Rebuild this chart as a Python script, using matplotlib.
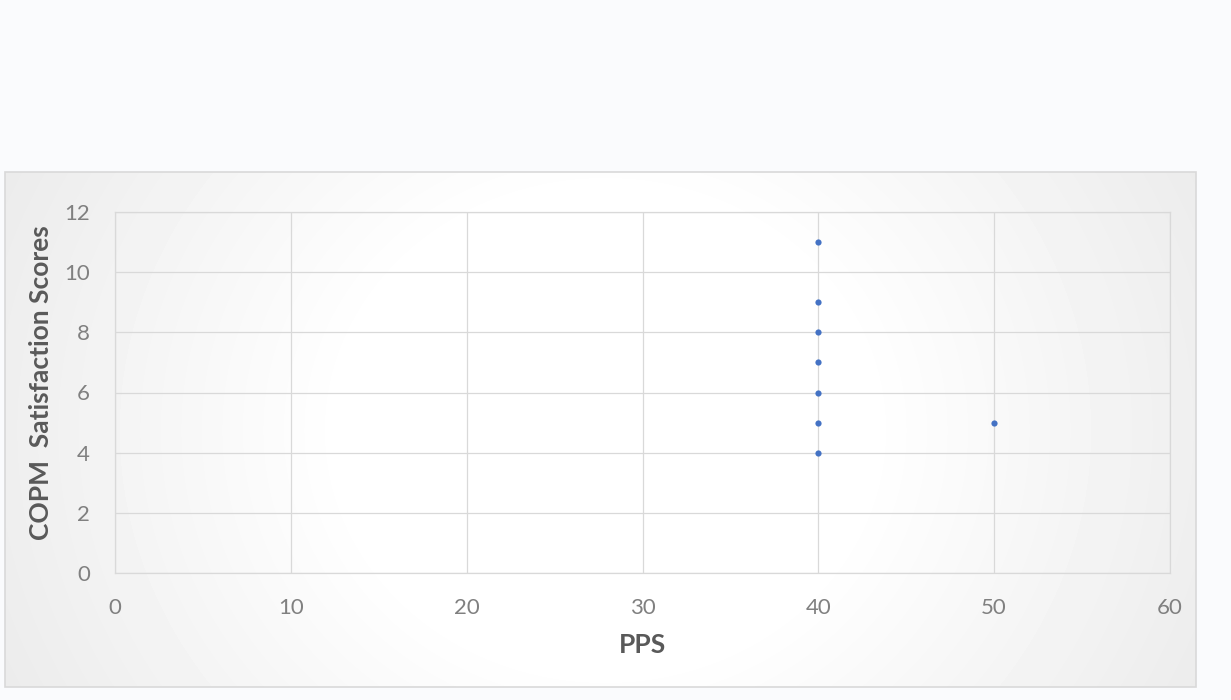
import matplotlib.pyplot as plt
import matplotlib.patches as patches
import numpy as np

# PPS vs COPM satisfaction
pps = [40, 40, 40, 40, 40, 40, 40, 50]
copm_satisfaction = [11, 9, 8, 7, 6, 5, 4, 5]

x_ticks = [0, 10, 20, 30, 40, 50, 60]
y_ticks = [0, 2, 4, 6, 8, 10, 12]

W, H = 1231, 700
fig = plt.figure(figsize=(W / 100, H / 100), dpi=100)
fig.patch.set_facecolor("#fafbfd")

# chart box with a soft radial shading
box_l, box_t, box_r, box_b = 5, 172, 1196, 687
bg = fig.add_axes([0, 0, 1, 1], zorder=0)
bg.set_xlim(0, W)
bg.set_ylim(H, 0)
bg.axis("off")
xx, yy = np.meshgrid(np.arange(box_l, box_r), np.arange(box_t, box_b))
r = np.hypot((xx - 605) / 1.0, (yy - 430) / 0.9)
t = np.clip((r - 260) / 420, 0, 1)
shade = 1 - 0.08 * t
bg.imshow(shade, cmap="gray", vmin=0, vmax=1,
          extent=(box_l, box_r, box_b, box_t), interpolation="bilinear")
bg.add_patch(patches.Rectangle((box_l, box_t), box_r - box_l, box_b - box_t,
                               fill=False, ec="#d9d9d9", lw=1.2))

ax = fig.add_axes([115 / W, 1 - 573 / H, (1170 - 115) / W, (573 - 212) / H], zorder=1)
ax.patch.set_alpha(0)
ax.scatter(pps, copm_satisfaction, s=20, color="#4472c4", zorder=3, lw=0)

ax.set_xlim(0, 60)
ax.set_ylim(0, 12)
ax.set_xticks(x_ticks)
ax.set_yticks(y_ticks)
ax.grid(True, color="#d9d9d9", lw=0.9)
ax.set_axisbelow(True)
for s in ax.spines.values():
    s.set_color("#d9d9d9")
    s.set_linewidth(0.9)
ax.tick_params(length=0, pad=18, labelsize=16, labelcolor="#808080")
for lab in ax.get_xticklabels() + ax.get_yticklabels():
    lab.set_family("Lato")

ax.set_xlabel("PPS", fontsize=19, fontweight="bold", color="#595959",
              family="Lato", labelpad=11)
ax.set_ylabel("COPM  Satisfaction Scores", fontsize=19, fontweight="bold",
              color="#595959", family="Lato", labelpad=8)
ax.yaxis.label.set_y(0.526)

fig.savefig("out.png", dpi=100, facecolor=fig.get_facecolor())
